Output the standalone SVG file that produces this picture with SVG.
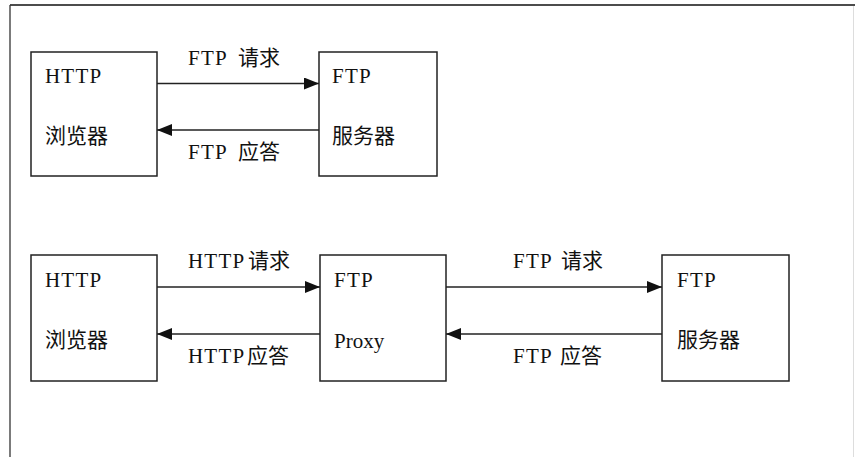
<svg xmlns="http://www.w3.org/2000/svg" width="855" height="457" viewBox="0 0 855 457">
<style>
.box{fill:#fff;stroke:#222;stroke-width:1.5}
.t{font-family:"Liberation Serif","Noto Sans CJK SC",serif;font-size:21px;fill:#111}
.l{letter-spacing:1.2px}
.c{stroke:#222;stroke-width:1.4;fill:none}
</style>
<defs>
<marker id="ah" viewBox="0 0 15 12" refX="15" refY="6" markerWidth="15" markerHeight="12" markerUnits="userSpaceOnUse" orient="auto">
<path d="M0,0 L15,6 L0,12 Z" fill="#111"/>
</marker>
</defs>
<rect width="855" height="457" fill="#fff"/>
<g id="frame">
<line x1="10" y1="5" x2="855" y2="5" stroke="#111" stroke-width="1.6"/>
<line x1="10" y1="5" x2="10" y2="457" stroke="#333" stroke-width="1.3"/>
<line x1="853.5" y1="6" x2="853.5" y2="457" stroke="#ddd" stroke-width="1"/>
</g>
<g id="connectors">
<line class="c" x1="157" y1="83.5" x2="319" y2="83.5" marker-end="url(#ah)"/>
<line class="c" x1="319" y1="130" x2="157" y2="130" marker-end="url(#ah)"/>
<line class="c" x1="157" y1="287" x2="320" y2="287" marker-end="url(#ah)"/>
<line class="c" x1="320" y1="334" x2="157" y2="334" marker-end="url(#ah)"/>
<line class="c" x1="446" y1="287" x2="662" y2="287" marker-end="url(#ah)"/>
<line class="c" x1="662" y1="334" x2="446" y2="334" marker-end="url(#ah)"/>
<text class="t" x="188" y="65"><tspan class="l">FTP</tspan><tspan x="238">请求</tspan></text>
<text class="t" x="188" y="159"><tspan class="l">FTP</tspan><tspan x="238">应答</tspan></text>
<text class="t" x="188" y="268"><tspan class="l">HTTP</tspan><tspan x="248">请求</tspan></text>
<text class="t" x="188" y="363"><tspan class="l">HTTP</tspan><tspan x="247">应答</tspan></text>
<text class="t" x="513" y="268"><tspan class="l">FTP</tspan><tspan x="561">请求</tspan></text>
<text class="t" x="513" y="363"><tspan class="l">FTP</tspan><tspan x="560">应答</tspan></text>
</g>
<g id="browser1">
<rect class="box" x="31" y="52" width="126" height="124"/>
<text class="t l" x="45" y="83">HTTP</text>
<text class="t" x="45" y="143">浏览器</text>
</g>
<g id="server1">
<rect class="box" x="319" y="52" width="118" height="124"/>
<text class="t l" x="332" y="83">FTP</text>
<text class="t" x="332" y="143">服务器</text>
</g>
<g id="browser2">
<rect class="box" x="31" y="255" width="126" height="126"/>
<text class="t l" x="45" y="287">HTTP</text>
<text class="t" x="45" y="347">浏览器</text>
</g>
<g id="proxy">
<rect class="box" x="320" y="255" width="126" height="126"/>
<text class="t l" x="334" y="287">FTP</text>
<text class="t" x="334" y="348">Proxy</text>
</g>
<g id="server2">
<rect class="box" x="662" y="255" width="127" height="126"/>
<text class="t l" x="677" y="287">FTP</text>
<text class="t" x="677" y="347">服务器</text>
</g>
</svg>
